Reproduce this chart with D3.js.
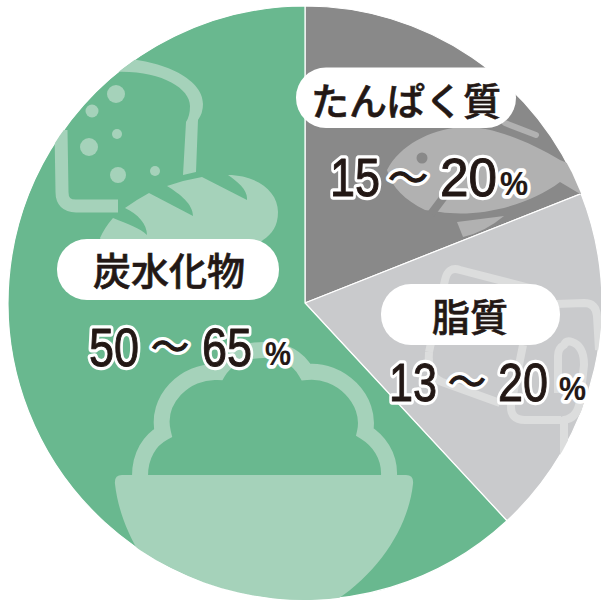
<!DOCTYPE html>
<html><head><meta charset="utf-8">
<script src="https://cdn.jsdelivr.net/npm/d3@7"></script>
<style>html,body{margin:0;padding:0;background:#fff}svg{display:block}</style>
</head><body><div id="c"></div>
<script>
const categories = ["たんぱく質", "脂質", "炭水化物"];
const shares = [19, 19.1, 61.9];
const rangeLow = ["15", "13", "50"];
const rangeHigh = ["20", "20", "65"];
const colors = ["#898989", "#c9cacc", "#69b88f"];

const W = 601, H = 602, cx = 305, cy = 303, R = 297;
const svg = d3.select("#c").append("svg").attr("width", W).attr("height", H);
const pie = d3.pie().sort(null).value(d => d)(shares);
const arc = d3.arc().innerRadius(0).outerRadius(R);
const defs = svg.append("defs");
pie.forEach((p, i) => defs.append("clipPath").attr("id", "clip" + i)
  .append("path").attr("transform", `translate(${cx},${cy})`).attr("d", arc(p)));

svg.append("g").attr("transform", `translate(${cx},${cy})`).selectAll("path").data(pie).join("path")
  .attr("d", arc).attr("fill", (d, i) => colors[i]).attr("stroke", "#fff").attr("stroke-width", 1.2);

// Decorative icons
const lg = "#a5d2ba";
const gC = svg.append("g").attr("clip-path", "url(#clip2)");
gC.append("path").attr("fill", "none").attr("stroke", lg).attr("stroke-width", 13)
  .attr("d", "M61 130 L62 192 Q62 206 76 206 L118 206");
gC.append("path").attr("fill", lg)
  .attr("d", "M110 58 C160 58 203 78 203 104 Q203 113 198 120 L196 172 L183 175 L186 122 Q190 116 190 106 C190 88 160 70 115 72 Z");
[[116,94,9],[92,111,6.5],[117,134,5],[89,147,9],[118,175,8],[155,171,5]].forEach(c =>
  gC.append("circle").attr("cx", c[0]).attr("cy", c[1]).attr("r", c[2]).attr("fill", lg));
gC.append("path").attr("fill", lg)
  .attr("d", "M100 238 Q105 227 113 218 C128 224 140 228 147 235 C147 224 138 214 125 208 Q136 200 149 193 L193 216 C193 204 180 194 167 186 Q184 180 202 177 L247 200 C248 190 238 182 228 175 C255 175 278 190 278 212 C278 226 272 234 263 240 L240 262 L110 262 Z");
gC.append("path").attr("fill", "none").attr("stroke", lg).attr("stroke-width", 16)
  .attr("d", "M140 476 C140 455 150 440 163 433 C155 400 185 370 218 372 C228 355 245 350 264 350 C285 350 298 358 306 372 C340 368 372 400 365 432 C378 440 390 455 389 476");
gC.append("path").attr("fill", lg)
  .attr("d", "M122 475 H406 Q414 475 413 484 C408 530 375 580 320 610 L190 610 C150 580 120 530 115 484 Q114 475 122 475 Z");

const fishC = "#b1b1b1";
const gP = svg.append("g").attr("clip-path", "url(#clip0)");
gP.append("path").attr("fill", fishC)
  .attr("d", "M387 170 C400 145 430 130 460 127 C490 125 530 142 560 160 L590 172 L590 200 L560 182 C530 205 480 218 440 212 L425 210 C405 200 392 188 387 170 Z");
gP.append("path").attr("fill", "none").attr("stroke", "#898989").attr("stroke-width", 8).attr("d", "M431 214 L446 194");
gP.append("circle").attr("cx", 422).attr("cy", 158).attr("r", 5.5).attr("fill", "#898989");
gP.append("path").attr("fill", "none").attr("stroke", fishC).attr("stroke-width", 6).attr("stroke-linecap", "round").attr("d", "M505 123 L536 135");
gP.append("path").attr("fill", fishC).attr("d", "M457 222 L463 237 Q485 232 504 216 Z");

const fatC = "#dcdddd";
const gF = svg.append("g").attr("clip-path", "url(#clip1)").attr("fill", "none").attr("stroke", fatC).attr("stroke-width", 8).attr("stroke-linejoin", "round");
gF.append("path").attr("d", "M429 352 L445 280 Q448 266 460 270 L530 288");
gF.append("path").attr("d", "M429 352 Q427 376 442 382 L500 403");
gF.append("path").attr("d", "M556 304 L584 303 Q596 303 597 316 L599 350");
gF.append("path").attr("d", "M523 345 L511 405 Q510 420 525 420 L561 420");
gF.append("path").attr("d", "M564 470 L564 420 Q578 418 580 400 L584 365 Q584 346 572 342 Q566 340 564 345 Q558 348 558 356 L558 393");

// Pills
const pills = [[296,67.5,220,60.5],[381,284,179,61],[57,239,222,61]];
const titleX = [406, 470, 169];
const titleY = [115, 331, 285];
const g = svg.append("g");
categories.forEach((c, i) => {
  const p = pills[i];
  g.append("rect").attr("x", p[0]).attr("y", p[1]).attr("width", p[2]).attr("height", p[3]).attr("rx", 30).attr("fill", "#fff");
  g.append("text").attr("x", titleX[i]).attr("y", titleY[i]).attr("text-anchor", "middle")
    .attr("font-family", "'Noto Sans CJK JP'").attr("font-size", 38).attr("font-weight", 500)
    .attr("fill", "#231815").attr("stroke", "#231815").attr("stroke-width", 0.6).text(c);
});

// [x, width] for low, tilde, high, percent
const layout = [[[330,50],[388,40],[440,57],[500,28]], [[389,48],[448,38],[498,50],[559,27]], [[89,50],[151,38],[202,50],[265,26]]];
const base = [196, 401, 366];
const tildeY = [192, 396, 361];
function num(x, y, w, s, size, fam, bold, dark) {
  [[7.5, "#fff"], [dark, "#231815"]].forEach(([sw, col]) => {
    g.append("text").attr("x", x).attr("y", y).attr("font-family", fam).attr("font-size", size)
      .attr("font-weight", bold ? 700 : 400)
      .attr("textLength", w).attr("lengthAdjust", "spacingAndGlyphs")
      .attr("fill", col).attr("stroke", col).attr("stroke-width", sw)
      .attr("stroke-linejoin", "round").text(s);
  });
}
categories.forEach((c, i) => {
  const l = layout[i], sans = "'Liberation Sans'";
  num(l[0][0], base[i], l[0][1], rangeLow[i], 54, sans, false, 1);
  num(l[1][0], tildeY[i], l[1][1], "～", 40, "'Noto Sans CJK JP'", false, 1.2);
  num(l[2][0], base[i], l[2][1], rangeHigh[i], 54, sans, false, 1);
  num(l[3][0], base[i] - 1, l[3][1], "%", 34, sans, true, 0.2);
});
</script></body></html>
